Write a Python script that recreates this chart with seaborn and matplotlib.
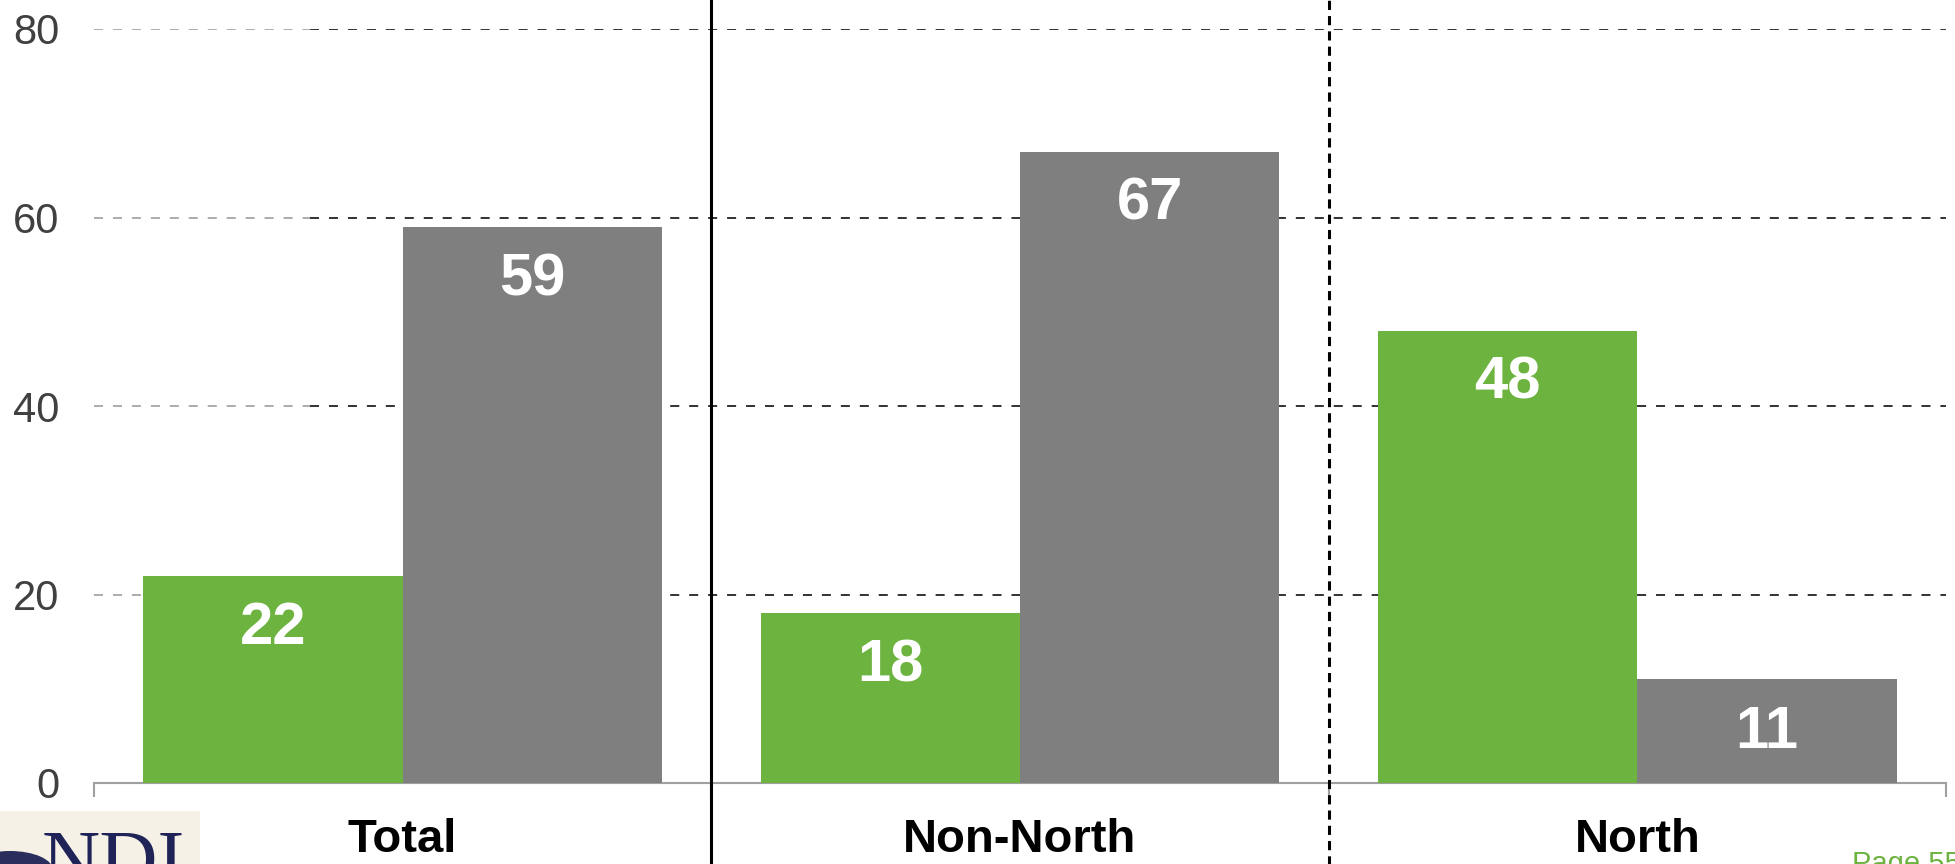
import pandas as pd
import matplotlib.pyplot as plt
import matplotlib.patches as mpatches
import seaborn as sns

# Chart data
categories = ["Total", "Non-North", "North"]
series = ["Series 1", "Series 2"]
values_s1 = [22, 18, 48]
values_s2 = [59, 67, 11]
yticks = [0, 20, 40, 60, 80]

green = "#6DB33F"
grey = "#7F7F7F"

df = pd.DataFrame({
    "category": categories * 2,
    "series": [series[0]] * 3 + [series[1]] * 3,
    "value": values_s1 + values_s2,
})

sns.set_style("white")
plt.rcParams["font.family"] = ["Liberation Sans", "DejaVu Sans"]

fig = plt.figure(figsize=(19.56, 8.64), dpi=100)
ax = fig.add_axes([94 / 1956, 1 - 783 / 864, (1946 - 94) / 1956, (783 - 29) / 864])

sns.barplot(data=df, x="category", y="value", hue="series", order=categories,
            hue_order=series, palette=[green, grey], width=0.84, dodge=True,
            saturation=1, legend=False, ax=ax, zorder=3, edgecolor="none")

ax.set_xlim(-0.5, 2.5)
ax.set_ylim(0, 80)

# dashed gridlines, lighter on the far left
for y in yticks[1:]:
    ax.hlines(y, -0.5, -0.15, colors="#a6a6a6", linestyles=(0, (5, 5.5)), lw=1.3, zorder=1)
    ax.hlines(y, -0.15, 2.5, colors="#222222", linestyles=(0, (5, 5.5)), lw=1.3, zorder=1)

# value labels inside bars
for cont in ax.containers:
    for bar in cont:
        h = bar.get_height()
        ax.annotate(f"{h:.0f}", (bar.get_x() + bar.get_width() / 2, h),
                    xytext=(0, -38), textcoords="offset points",
                    ha="center", va="center", color="white",
                    fontsize=43, fontweight="bold", zorder=5)

# separators between groups
ax.plot([0.5, 0.5], [-0.11, 1.05], transform=ax.get_xaxis_transform(),
        color="black", lw=2.2, clip_on=False, zorder=6)
ax.plot([1.5, 1.5], [-0.11, 1.05], transform=ax.get_xaxis_transform(),
        color="black", lw=2.2, ls=(0, (3, 2)), clip_on=False, zorder=6)

for s in ["left", "top", "right"]:
    ax.spines[s].set_visible(False)
ax.spines["bottom"].set_color("#a0a0a0")
ax.spines["bottom"].set_linewidth(1.5)

ax.set_yticks(yticks)
ax.tick_params(axis="y", left=False, length=0, pad=25, labelsize=30, labelcolor="#404040")
ax.set_xticks([-0.5, 0.5, 1.5, 2.5], minor=True)
ax.tick_params(axis="x", which="minor", bottom=True, length=10, width=1.5,
               color="#a0a0a0", direction="out")
ax.tick_params(axis="x", which="major", length=0, pad=25, labelsize=34)
for lbl in ax.get_xticklabels():
    lbl.set_fontweight("bold")
    lbl.set_color("black")
ax.set_xlabel("")
ax.set_ylabel("")

# footer: logo strip and page number
fig.patches.append(mpatches.Rectangle((0, 0), 200 / 1956, 53 / 864, transform=fig.transFigure,
                                      facecolor="#f6f1e7", edgecolor="none", zorder=0))
fig.patches.append(mpatches.Circle((10 / 1956, -6 / 864), 0.022, transform=fig.transFigure,
                                   facecolor="#2b2d5c", edgecolor="none", zorder=1))
fig.text(42 / 1956, -0.045, "NDI", fontsize=58, color="#1f2357", family="Liberation Serif",
         ha="left", va="bottom")
fig.text(1852 / 1956, 1 - 850 / 864, "Page 55", fontsize=21, color=green, ha="left", va="top")

fig.savefig("out.png", dpi=100)
